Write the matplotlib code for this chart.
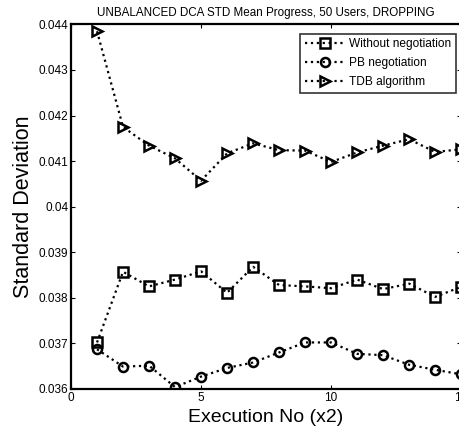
import matplotlib
matplotlib.use("Agg")
import matplotlib.pyplot as plt

execs = list(range(1, 16))
without_neg = [0.03702, 0.03857, 0.03825, 0.03840, 0.03858, 0.03811, 0.03868, 0.03828,
               0.03825, 0.03821, 0.03840, 0.03819, 0.03831, 0.03802, 0.03824]
pb_neg = [0.03687, 0.03649, 0.03651, 0.03604, 0.03627, 0.03646, 0.03658, 0.03680,
          0.03702, 0.03702, 0.03677, 0.03674, 0.03653, 0.03642, 0.03632]
tdb_alg = [0.04385, 0.04175, 0.04134, 0.04106, 0.04057, 0.04117, 0.04139, 0.04124,
           0.04123, 0.04098, 0.04119, 0.04134, 0.04148, 0.04120, 0.04126]
series_labels = ["Without negotiation", "PB negotiation", "TDB algorithm"]
x_ticks = [0, 5, 10, 15]
x_tick_labels = ["0", "5", "10", "15"]
y_ticks = [0.036, 0.037, 0.038, 0.039, 0.040, 0.041, 0.042, 0.043, 0.044]
y_tick_labels = ["0.036", "0.037", "0.038", "0.039", "0.04", "0.041", "0.042", "0.043", "0.044"]

plt.rcParams['font.family'] = ['Liberation Sans', 'DejaVu Sans']

fig = plt.figure(figsize=(4.59, 4.36), dpi=100)
ax = fig.add_axes([0.1547, 0.108, 0.85, 0.836])

style = dict(color='black', linestyle=':', linewidth=1.6, markerfacecolor='none',
             markeredgecolor='black', markeredgewidth=1.8, markersize=6.5)
ax.plot(execs, without_neg, marker='s', label=series_labels[0], **style)
ax.plot(execs, pb_neg, marker='o', label=series_labels[1], **style)
ax.plot(execs, tdb_alg, marker='>', label=series_labels[2], **style)

ax.set_xlim(0, 15)
ax.set_ylim(0.036, 0.044)
ax.set_xticks(x_ticks)
ax.set_xticklabels(x_tick_labels)
ax.set_yticks(y_ticks)
ax.set_yticklabels(y_tick_labels)
ax.tick_params(direction='in', top=True, right=True, labelsize=8.5, length=3, width=0.8, pad=2)
for s in ax.spines.values():
    s.set_linewidth(1.6)

ax.set_title("UNBALANCED DCA STD Mean Progress, 50 Users, DROPPING", fontsize=8.4, pad=6)
ax.set_xlabel("Execution No (x2)", fontsize=14, labelpad=4)
ax.set_ylabel("Standard Deviation", fontsize=15.5, labelpad=3)

leg = ax.legend(loc='upper right', fontsize=8.6, frameon=True, fancybox=False,
                edgecolor='black', handlelength=3.3, handletextpad=0.4,
                borderpad=0.41, labelspacing=0.56, borderaxespad=0,
                bbox_to_anchor=(0.987, 0.975))
leg.get_frame().set_linewidth(1.2)

fig.savefig("out.png", dpi=100)
